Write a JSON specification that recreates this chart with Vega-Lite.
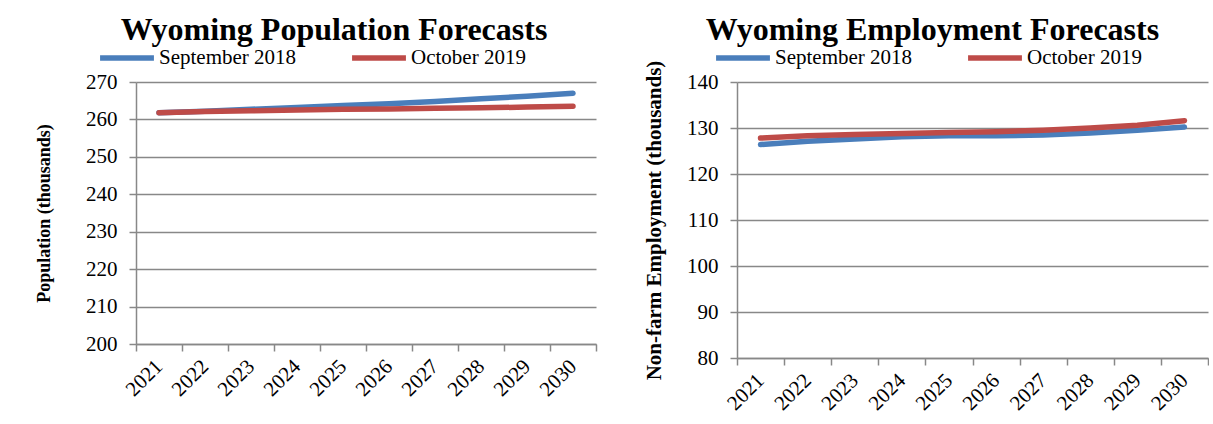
{
  "$schema": "https://vega.github.io/schema/vega-lite/v6.json",
  "background": "white",
  "padding": {"left": 35, "top": 14, "right": 0, "bottom": 0},
  "spacing": 46,
  "config": {
    "font": "Liberation Serif",
    "view": {"stroke": null},
    "axis": {
      "labelFont": "Liberation Serif", "labelColor": "black", "labelFontSize": 21,
      "titleFont": "Liberation Serif", "titleFontWeight": "bold", "titleFontSize": 18, "titleColor": "black",
      "gridColor": "#888888", "gridWidth": 1.5, "domainColor": "#888888", "domainWidth": 1.5,
      "tickColor": "#888888", "tickWidth": 1.5, "tickSize": 7
    },
    "legend": {
      "orient": "none", "direction": "horizontal", "title": null,
      "symbolType": "stroke", "symbolSize": 2900, "symbolStrokeWidth": 5.5,
      "labelFont": "Liberation Serif", "labelFontSize": 21, "labelColor": "black",
      "labelOffset": 2, "columnPadding": 44
    },
    "title": {"font": "Liberation Serif", "fontSize": 32, "fontWeight": "bold", "color": "black", "offset": -19}
  },
  "datasets": {
    "pop": [
      {"year": "2021", "series": "September 2018", "value": 261.8},
      {"year": "2022", "series": "September 2018", "value": 262.2},
      {"year": "2023", "series": "September 2018", "value": 262.7},
      {"year": "2024", "series": "September 2018", "value": 263.2},
      {"year": "2025", "series": "September 2018", "value": 263.7},
      {"year": "2026", "series": "September 2018", "value": 264.2},
      {"year": "2027", "series": "September 2018", "value": 264.8},
      {"year": "2028", "series": "September 2018", "value": 265.5},
      {"year": "2029", "series": "September 2018", "value": 266.2},
      {"year": "2030", "series": "September 2018", "value": 267.0},
      {"year": "2021", "series": "October 2019", "value": 261.8},
      {"year": "2022", "series": "October 2019", "value": 262.1},
      {"year": "2023", "series": "October 2019", "value": 262.3},
      {"year": "2024", "series": "October 2019", "value": 262.5},
      {"year": "2025", "series": "October 2019", "value": 262.7},
      {"year": "2026", "series": "October 2019", "value": 262.8},
      {"year": "2027", "series": "October 2019", "value": 263.0},
      {"year": "2028", "series": "October 2019", "value": 263.1},
      {"year": "2029", "series": "October 2019", "value": 263.3},
      {"year": "2030", "series": "October 2019", "value": 263.5}
    ],
    "emp": [
      {"year": "2021", "series": "September 2018", "value": 126.4},
      {"year": "2022", "series": "September 2018", "value": 127.1},
      {"year": "2023", "series": "September 2018", "value": 127.6},
      {"year": "2024", "series": "September 2018", "value": 128.1},
      {"year": "2025", "series": "September 2018", "value": 128.3},
      {"year": "2026", "series": "September 2018", "value": 128.3},
      {"year": "2027", "series": "September 2018", "value": 128.5},
      {"year": "2028", "series": "September 2018", "value": 128.9},
      {"year": "2029", "series": "September 2018", "value": 129.5},
      {"year": "2030", "series": "September 2018", "value": 130.2},
      {"year": "2021", "series": "October 2019", "value": 127.8},
      {"year": "2022", "series": "October 2019", "value": 128.3},
      {"year": "2023", "series": "October 2019", "value": 128.6},
      {"year": "2024", "series": "October 2019", "value": 128.8},
      {"year": "2025", "series": "October 2019", "value": 129.0},
      {"year": "2026", "series": "October 2019", "value": 129.2},
      {"year": "2027", "series": "October 2019", "value": 129.5},
      {"year": "2028", "series": "October 2019", "value": 130.0},
      {"year": "2029", "series": "October 2019", "value": 130.6},
      {"year": "2030", "series": "October 2019", "value": 131.6}
    ]
  },
  "hconcat": [
    {
      "width": 460, "height": 262,
      "data": {"name": "pop"},
      "title": {"text": "Wyoming Population Forecasts", "dx": -32},
      "mark": {"type": "line", "strokeWidth": 5.5, "strokeCap": "round"},
      "encoding": {
        "x": {"field": "year", "type": "ordinal",
          "scale": {"type": "band", "paddingInner": 0, "paddingOuter": 0},
          "axis": {"title": null, "labelAngle": -45, "labelAlign": "right", "labelBaseline": "middle", "labelFontSize": 21, "tickBand": "extent", "grid": false, "labelPadding": 12}},
        "y": {"field": "value", "type": "quantitative",
          "scale": {"domain": [200, 270], "nice": false, "zero": false},
          "axis": {"title": "Population (thousands)", "values": [200, 210, 220, 230, 240, 250, 260, 270], "labelPadding": 12, "titlePadding": 32}},
        "color": {"field": "series", "type": "nominal", "sort": ["September 2018", "October 2019"],
          "scale": {"domain": ["September 2018", "October 2019"], "range": ["#4A7EBB", "#BE4B48"]},
          "legend": {"legendX": -39, "legendY": -54}}
      }
    },
    {
      "width": 471, "height": 276,
      "data": {"name": "emp"},
      "title": {"text": "Wyoming Employment Forecasts", "dx": -40},
      "mark": {"type": "line", "strokeWidth": 5.5, "strokeCap": "round"},
      "encoding": {
        "x": {"field": "year", "type": "ordinal",
          "scale": {"type": "band", "paddingInner": 0, "paddingOuter": 0},
          "axis": {"title": null, "labelAngle": -45, "labelAlign": "right", "labelBaseline": "middle", "labelFontSize": 21, "tickBand": "extent", "grid": false, "labelPadding": 12}},
        "y": {"field": "value", "type": "quantitative",
          "scale": {"domain": [80, 140], "nice": false, "zero": false},
          "axis": {"title": "Non-farm Employment (thousands)", "titleFontSize": 21, "values": [80, 90, 100, 110, 120, 130, 140], "labelPadding": 12, "titlePadding": 22}},
        "color": {"field": "series", "type": "nominal", "sort": ["September 2018", "October 2019"],
          "scale": {"domain": ["September 2018", "October 2019"], "range": ["#4A7EBB", "#BE4B48"]},
          "legend": {"legendX": -24, "legendY": -54}}
      }
    }
  ],
  "resolve": {"scale": {"color": "independent", "x": "independent", "y": "independent"}, "legend": {"color": "independent"}}
}
